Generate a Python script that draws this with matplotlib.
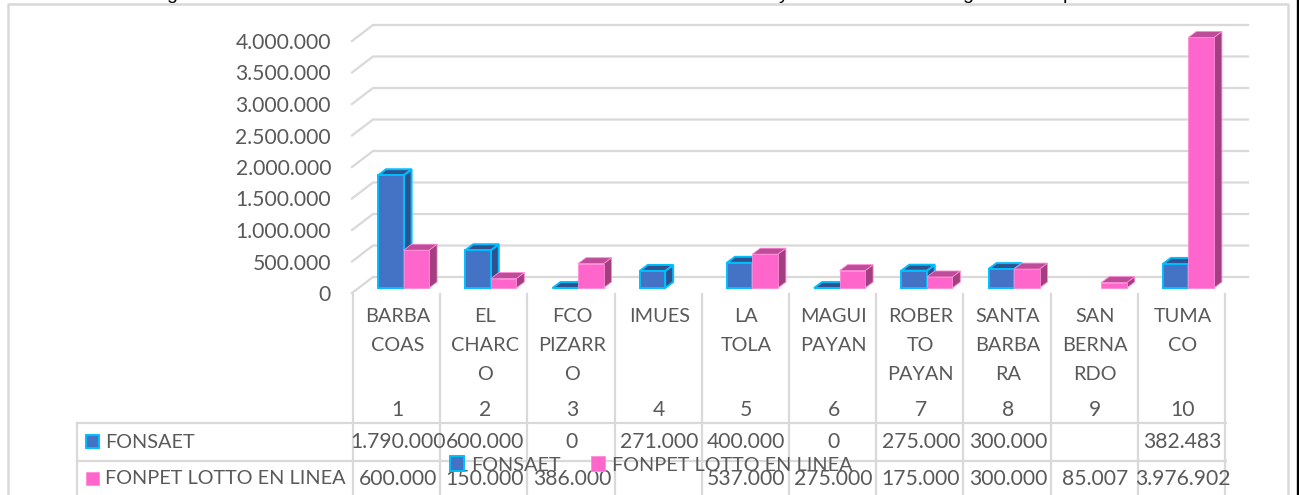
import matplotlib
matplotlib.use("Agg")
import matplotlib.pyplot as plt
from matplotlib.patches import Polygon, Rectangle
from matplotlib.transforms import blended_transform_factory, ScaledTranslation

categories = ["BARBA\nCOAS", "EL\nCHARC\nO", "FCO\nPIZARR\nO", "IMUES", "LA\nTOLA",
              "MAGUI\nPAYAN", "ROBER\nTO\nPAYAN", "SANTA\nBARBA\nRA", "SAN\nBERNA\nRDO", "TUMA\nCO"]
numbers = [1, 2, 3, 4, 5, 6, 7, 8, 9, 10]
fonsaet = [1790000, 600000, 0, 271000, 400000, 0, 275000, 300000, None, 382483]
fonpet = [600000, 150000, 386000, None, 537000, 275000, 175000, 300000, 85007, 3976902]
yticks = [0, 500000, 1000000, 1500000, 2000000, 2500000, 3000000, 3500000, 4000000]
name_a = "FONSAET"
name_b = "FONPET LOTTO EN LINEA"
title_fragments = [("g", 172), ("y", 784), ("g", 968), ("p", 1068)]

W, H = 1299, 495
FONT = "Lato"
FS = 14.3
FS_NUM = 15.2
TXT = "#595959"
GRID = "#D9D9D9"
BLUE, BLUE_EDGE, BLUE_DARK = "#4472C4", "#00BFFF", "#2F528F"
PINK, PINK_TOP, PINK_SIDE = "#FF66CC", "#BF4C99", "#A33F80"

def fmt(v):
    if v is None:
        return ""
    return f"{v:,}".replace(",", ".")

fig = plt.figure(figsize=(W / 100, H / 100), dpi=100, facecolor="white")

# overlay in pixel coordinates for the frame and data table
ov = fig.add_axes([0, 0, 1, 1], zorder=0)
ov.set_xlim(0, W)
ov.set_ylim(H, 0)
ov.axis("off")

# main plot axes: value 0 at y=288 px, 4.000.000 at y=36 px, categories 354..1226 px
L, R, Y0, Y4 = 354, 1226, 288, 36
ax = fig.add_axes([L / W, 1 - Y0 / H, (R - L) / W, (Y0 - Y4) / H], zorder=1)
ax.set_xlim(0.5, 10.5)
ax.set_ylim(0, 4000000)
ax.patch.set_alpha(0)
for s in ax.spines.values():
    s.set_visible(False)

px = 10 / (R - L)                # data x per pixel
py = 4000000 / (Y0 - Y4)         # data y per pixel

# walls
lw_grid = 1.6
xfl, xbl, xbr = 0.5 - 2 * px, 0.5 + 19 * px, 10.5 + 22 * px
for v in yticks:
    ax.plot([xfl, xbl, xbr], [v - 5 * py, v + 11 * py, v + 11 * py], color=GRID, lw=lw_grid,
            clip_on=False, zorder=1, solid_joinstyle="miter")

ax.set_xticks([])
ax.set_yticks(yticks)
ax.set_yticklabels([fmt(v) for v in yticks], fontfamily=FONT, fontsize=FS_NUM, color=TXT)
ax.tick_params(axis="y", length=0, pad=16.5)
off = ScaledTranslation(0, -5 / 72 * 0.72, fig.dpi_scale_trans)
for lab in ax.get_yticklabels():
    lab.set_transform(lab.get_transform() + off)

# 3D bars
bw = 25.5 * px
shift = 6 * px
ddx, ddy = 8 * px, 6 * py

def box(xs, vals, color, edge, top, side, z, lw):
    for x, v in zip(xs, vals):
        if v is None:
            continue
        xl, xr = x, x + bw
        ax.add_patch(Polygon([(xr, 0), (xr + ddx, ddy), (xr + ddx, v + ddy), (xr, v)], closed=True,
                             fc=side, ec=edge, lw=lw, clip_on=False, zorder=z))
        ax.add_patch(Polygon([(xl, v), (xl + ddx, v + ddy), (xr + ddx, v + ddy), (xr, v)], closed=True,
                             fc=top, ec=edge, lw=lw, clip_on=False, zorder=z))
    return ax.bar([x + bw / 2 for x, v in zip(xs, vals) if v is not None],
                  [v for v in vals if v is not None], width=bw, color=color, edgecolor=edge,
                  linewidth=lw, clip_on=False, zorder=z + 0.1)

xa = [n + shift - bw for n in numbers]
xb = [n + shift for n in numbers]
ba = box(xa, fonsaet, BLUE, BLUE_EDGE, BLUE_DARK, BLUE_DARK, 3, 1.4)
bb = box(xb, fonpet, PINK, "#FF8AD8", PINK_TOP, PINK_SIDE, 4, 0.6)

# chart frame
lw_f = 1.8
ov.plot([8, 8, 1288, 1288], [H + 5, 4, 4, H + 5], color=GRID, lw=lw_f, clip_on=False)
ov.plot([1298, 1298], [0, H], color="black", lw=2.4)

# data table grid
cols = [353 + 87.2 * i for i in range(11)]
for x in cols:
    ov.plot([x, x], [294, H + 5], color=GRID, lw=lw_grid)
ov.plot([77, 77], [423, H + 5], color=GRID, lw=lw_grid)
for y in (423, 461):
    ov.plot([77, 1226], [y, y], color=GRID, lw=lw_grid)

# data table text
tr = blended_transform_factory(ax.transData, ov.transData)
for n, c, a, b in zip(numbers, categories, fonsaet, fonpet):
    for i, line in enumerate(c.split("\n")):
        ov.text(n, 317 + 28.5 * i, line, transform=tr, ha="center", va="center",
                family=FONT, fontsize=FS, color=TXT)
    ov.text(n, 410, str(n), transform=tr, ha="center", va="center", family=FONT, fontsize=FS_NUM, color=TXT)
    ov.text(n, 442, fmt(a), transform=tr, ha="center", va="center", family=FONT, fontsize=FS_NUM, color=TXT)
    ov.text(n, 479, fmt(b), transform=tr, ha="center", va="center", family=FONT, fontsize=FS_NUM, color=TXT)

ov.add_patch(Rectangle((86, 435), 13, 13, fc=BLUE, ec=BLUE_EDGE, lw=1.4))
ov.add_patch(Rectangle((86, 472), 13, 13, fc=PINK, ec="#FF8AD8", lw=0.6))
ov.text(105, 442, name_a, ha="left", va="center", family=FONT, fontsize=FS, color=TXT)
ov.text(105, 479, name_b, ha="left", va="center", family=FONT, fontsize=FS, color=TXT)

# legend overlapping the table
leg = ax.legend([ba, bb], [name_a, name_b], ncol=2, frameon=False, loc="center left",
                bbox_to_anchor=(450 / W, 1 - 465 / H), bbox_transform=fig.transFigure,
                prop={"family": FONT, "size": FS}, labelcolor=TXT,
                handlelength=0.72, handleheight=0.72, handletextpad=0.35, columnspacing=1.5,
                borderpad=0, borderaxespad=0)
leg.set_zorder(10)

# clipped remains of the title above the chart
for ch, x in title_fragments:
    ov.text(x, -1, ch, ha="center", va="baseline", family="Liberation Sans", fontsize=14,
            color="black", clip_on=False)

fig.savefig("out.png", dpi=100)
